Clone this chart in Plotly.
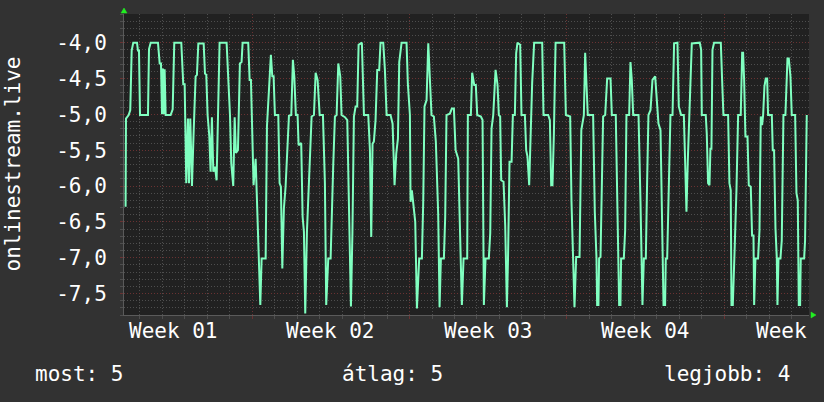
import plotly.graph_objects as go

# ---------------- data ----------------
series_name = "onlinestream.live"

# time in hours from the start of "Week 01"
hours = [
    32.7, 33.1, 36.0, 37.7, 39.2, 40.9, 44.9, 45.9, 47.0, 48.1, 56.6, 57.7, 59.5, 67.3, 69.1, 70.5,
    71.6, 72.6, 73.7, 74.4, 75.5, 80.8, 83.0, 84.7, 92.2, 94.3, 95.8, 97.5, 99.3, 100.4, 101.8, 103.6,
    105.4, 107.5, 108.9, 110.4, 116.1, 117.5, 118.9, 120.3, 122.1, 123.5, 124.9, 126.4, 128.2, 129.9,
    131.4, 133.1, 140.6, 142.4, 144.2, 145.6, 147.7, 149.2, 150.6,
    152.7, 154.8, 156.6, 157.7, 163.7, 165.2, 166.6, 168.0, 169.4, 171.6, 173.0, 175.1, 176.6, 178.0,
    182.3, 183.7, 185.1, 186.5, 187.9, 189.4, 190.8, 192.2, 195.8, 197.2, 198.6, 200.1, 201.8, 203.6,
    205.4, 207.2, 209.7, 211.4, 212.9, 214.6, 216.4, 217.5, 220.3, 221.8, 223.2, 224.6, 226.4, 227.8,
    230.0, 231.4, 233.9, 235.7, 237.8, 240.0, 243.5, 245.6, 247.0, 249.2, 251.7, 253.1, 254.5, 256.3,
    258.1, 259.9, 262.0, 263.4, 267.0, 269.5, 271.6, 273.4, 275.0,
    276.6, 278.4, 280.1, 281.6, 285.1, 287.3, 291.9, 293.7, 295.1, 296.5, 297.9, 299.7, 301.5, 303.6,
    305.0, 307.9, 309.7, 311.5, 315.7, 317.9, 319.3, 320.0, 321.8, 323.6, 325.0, 327.5, 332.8, 334.2,
    336.4, 337.1, 338.5, 339.9, 342.1, 343.9, 346.3, 349.2, 350.6, 352.0, 354.2, 356.0, 357.7, 359.5,
    362.0, 364.1, 366.6, 368.1, 369.5, 372.7, 374.1, 375.5, 379.1, 381.2, 383.4, 385.2, 388.0, 389.8,
    391.9, 393.7, 397.6,
    398.3, 401.5, 402.9, 405.1, 406.8, 408.3, 412.2, 414.0, 415.4, 417.2, 420.7, 422.2, 423.6, 425.4,
    427.9, 430.0, 431.4, 432.8, 433.9, 436.4, 438.2, 440.0, 441.2, 442.8, 445.0, 446.4, 448.5, 449.9,
    451.3, 454.2, 455.6, 459.2, 460.6, 462.0, 463.8, 465.2, 467.0, 469.1, 477.7, 479.1, 484.1, 485.9,
    487.3, 488.7, 490.2, 492.0, 501.2, 503.0, 507.6, 509.0, 510.8, 512.2, 514.0, 517.6, 519.5,
    522.2, 523.6, 525.0, 526.4, 532.1, 533.9, 535.7, 536.4, 537.8, 538.5, 540.0, 541.4, 542.8, 545.0,
    547.1, 550.7, 552.1, 556.3, 557.8, 559.2, 559.9, 561.3, 562.0, 564.9, 566.3, 567.7, 570.6, 572.0,
    573.4, 574.9, 580.6, 582.7, 584.1, 584.8, 586.3, 588.4, 589.8, 591.2, 593.4, 595.5, 598.4, 599.8,
    601.9, 604.1, 605.5, 607.3, 609.0, 609.7, 611.2, 612.6, 614.7, 616.9, 618.6, 622.2, 623.6, 626.1,
    629.0, 630.4, 631.8, 633.2, 635.4, 637.5,
    646.0, 647.5, 648.2, 652.4, 653.5, 654.9, 656.4, 657.4, 658.5, 659.6, 661.3, 668.5, 669.9, 671.3,
    676.3, 677.7, 679.1, 679.9, 681.3, 682.4, 683.4, 685.2, 687.0, 689.8, 691.3, 692.3, 693.4, 694.8,
    697.0, 698.4, 700.5, 701.9, 703.4, 704.1, 705.5, 708.3, 709.8, 711.2, 712.6, 713.7, 715.1, 716.5,
    718.0, 719.0, 723.0, 724.0, 725.4, 726.9, 728.3, 729.0, 730.1, 732.2, 733.6, 735.4, 737.5, 739.7,
    741.1, 742.9, 744.3, 747.9, 749.3, 750.7, 751.8, 753.2, 753.9, 757.5, 758.5, 760.3,
]

values = [
    -6.29, -5.06, -5.01, -4.94, -4.11, -4.00, -4.00, -4.11, -4.11, -5.01, -5.01, -4.09, -4.00, -4.00, -4.29, -4.29,
    -5.00, -4.36, -5.00, -4.37, -5.01, -5.01, -4.93, -4.00, -4.00, -4.58, -4.58, -5.96, -5.06, -5.96, -5.06, -6.00,
    -5.24, -4.47, -4.45, -4.01, -4.01, -4.43, -4.45, -5.01, -5.30, -5.80, -5.04, -5.80, -5.73, -5.92,
    -5.03, -4.00, -4.00, -4.50, -5.01, -5.69, -6.00, -5.04, -5.54,
    -5.50, -4.29, -4.27, -4.00, -4.00, -4.52, -4.52, -5.28, -5.99, -5.62, -6.17, -6.87, -7.66, -7.01,
    -7.01, -5.17, -4.79, -4.59, -4.17, -4.47, -4.47, -5.01, -5.01, -5.96, -6.01, -7.15, -6.31, -6.01,
    -5.41, -5.02, -5.01, -4.24, -4.47, -5.01, -5.01, -5.43, -5.40, -6.43, -6.64, -7.78, -6.64, -6.15,
    -5.48, -5.03, -5.01, -4.42, -4.52, -5.01, -5.01, -5.96, -7.66, -7.01, -7.01, -6.15, -5.71, -5.03,
    -5.01, -4.29, -4.47, -5.01, -5.04, -5.08, -6.34, -7.68, -6.65,
    -5.03, -4.89, -4.89, -4.03, -4.00, -5.01, -5.01, -5.50, -6.71, -5.41, -5.38, -5.08, -4.38, -4.38,
    -4.00, -4.00, -4.38, -5.01, -5.01, -5.13, -5.55, -5.99, -5.55, -5.34, -4.27, -4.00, -4.00, -4.57,
    -5.01, -6.22, -6.06, -6.24, -6.50, -7.71, -7.01, -7.01, -6.24, -4.89, -4.80, -4.01, -4.50, -5.01,
    -5.03, -5.38, -6.38, -7.69, -7.01, -7.01, -6.43, -5.01, -4.99, -4.92, -4.92, -5.50, -5.62, -6.62,
    -7.66, -7.01, -7.01,
    -5.01, -5.01, -4.42, -4.59, -4.59, -5.01, -5.03, -5.08, -7.66, -7.01, -7.01, -6.66, -5.20, -5.01,
    -4.38, -4.59, -5.01, -5.03, -5.92, -5.94, -6.55, -7.69, -7.01, -5.66, -5.66, -5.01, -5.01, -4.15,
    -4.00, -4.03, -5.01, -5.01, -5.50, -5.59, -5.99, -5.29, -4.56, -4.00, -4.00, -5.01, -5.01, -5.08,
    -5.99, -5.99, -5.27, -4.00, -4.00, -5.01, -5.03, -6.22, -7.01, -7.69, -6.99, -6.99, -5.22,
    -5.01, -4.14, -4.52, -5.01, -5.01, -6.36, -7.01, -7.66, -7.66, -7.01, -6.99, -6.20, -5.03, -5.01,
    -4.50, -4.50, -5.01, -5.01, -6.29, -7.01, -7.66, -7.66, -7.01, -7.01, -6.62, -5.01, -5.01, -4.27,
    -4.52, -5.01, -5.01, -6.22, -7.01, -7.66, -7.01, -7.01, -5.92, -5.01, -4.94, -4.52, -4.47, -4.80,
    -5.13, -5.22, -6.52, -7.66, -7.66, -7.01, -7.01, -6.06, -5.01, -5.01, -4.01, -4.00, -4.89, -5.01,
    -5.01, -5.66, -6.36, -5.66, -4.68, -4.01,
    -4.00, -4.10, -5.01, -5.01, -5.27, -5.96, -5.99, -5.48, -5.48, -4.10, -4.00, -4.00, -4.52, -5.01,
    -5.01, -5.96, -6.06, -7.66, -7.66, -7.01, -6.83, -6.06, -5.01, -5.01, -4.14, -4.14, -4.52, -5.31,
    -5.31, -5.99, -6.01, -6.69, -6.69, -7.66, -7.01, -7.01, -6.62, -5.03, -5.15, -5.01, -4.61, -4.50,
    -4.50, -5.01, -5.01, -5.50, -5.50, -6.59, -7.01, -7.66, -7.01, -7.01, -6.76, -5.01, -5.01, -4.22,
    -4.22, -4.47, -5.01, -5.01, -6.10, -6.20, -7.66, -7.66, -7.01, -7.01, -6.76, -5.01,
]

x_range = [31.0, 762.7]
week_ticks = [84, 252, 420, 588, 756]
week_labels = ["Week 01", "Week 02", "Week 03", "Week 04", "Week"]

y_range = [-7.8, -3.6]
y_tickvals = [-4.0, -4.5, -5.0, -5.5, -6.0, -6.5, -7.0, -7.5]
y_ticktext = ["-4,0", "-4,5", "-5,0", "-5,5", "-6,0", "-6,5", "-7,0", "-7,5"]

legend_labels = ["most: 5", "átlag: 5", "legjobb: 4"]

# ---------------- style ----------------
FONT = "DejaVu Sans Mono"
FS = 21
TXT = "#ffffff"
BACK = "#323232"
CANVAS = "#212121"
MINOR = "#4e4e4e"
MAJOR = "#6a3232"
LINE = "#80ffc0"
ARROW = "#22ee22"
AXIS = "#5a5a5a"

fig = go.Figure()
fig.add_trace(go.Scatter(
    x=hours, y=values, mode="lines", name=series_name,
    line=dict(color=LINE, width=2), hoverinfo="skip", showlegend=False,
))

fig.update_layout(
    width=824, height=402, autosize=False,
    margin=dict(l=124, r=15, t=14, b=87, pad=0),
    paper_bgcolor=BACK, plot_bgcolor=CANVAS,
    font=dict(family=FONT, size=FS, color=TXT),
    showlegend=False,
)

fig.update_xaxes(
    range=x_range, tickmode="linear", tick0=0, dtick=168, automargin=False,
    showticklabels=False, showgrid=True, gridcolor=MAJOR, griddash="1px,2px", gridwidth=1,
    ticks="outside", ticklen=3, tickcolor=MAJOR,
    minor=dict(tick0=0, dtick=24, showgrid=True, gridcolor=MINOR, griddash="1px,2px",
               ticks="outside", ticklen=3, tickcolor=MINOR),
    showline=True, linecolor=AXIS, linewidth=1, zeroline=False, fixedrange=True,
)

fig.update_yaxes(
    range=y_range, tickmode="array", tickvals=y_tickvals, ticktext=y_ticktext, automargin=False,
    showgrid=True, gridcolor=MAJOR, griddash="1px,2px", gridwidth=1,
    ticks="outside", ticklen=3, tickcolor=MAJOR, ticklabelstandoff=9,
    tickfont=dict(family=FONT, size=FS, color=TXT),
    minor=dict(tick0=-4.0, dtick=0.1, showgrid=True, gridcolor=MINOR, griddash="1px,2px",
               ticks="outside", ticklen=3, tickcolor=MINOR),
    showline=True, linecolor=AXIS, linewidth=1, zeroline=False, fixedrange=True,
)

annotations = []
for xv, lab in zip(week_ticks, week_labels):
    # a label whose week runs past the right edge is pinned to that edge (as rrdtool clips it)
    last = xv + 84 > x_range[1]
    annotations.append(dict(
        x=x_range[1] if last else xv, y=-0.053, xref="x", yref="paper", text=lab, showarrow=False,
        xanchor="right" if last else "center", yanchor="middle",
        font=dict(family=FONT, size=FS, color=TXT),
    ))

annotations.append(dict(
    x=-0.1635, y=0.5, xref="paper", yref="paper", text=series_name, showarrow=False,
    textangle=-90, xanchor="center", yanchor="middle", font=dict(family=FONT, size=FS, color=TXT),
))

leg_x = [-0.1328, 0.3927, 0.9752]
leg_anchor = ["left", "center", "right"]
for xv, anc, lab in zip(leg_x, leg_anchor, legend_labels):
    annotations.append(dict(
        x=xv, y=-0.196, xref="paper", yref="paper", text=lab, showarrow=False,
        xanchor=anc, yanchor="middle", font=dict(family=FONT, size=FS, color=TXT),
    ))
fig.update_layout(annotations=annotations)

# axis arrows (rrdtool style)
fig.update_layout(shapes=[
    dict(type="path", xref="paper", yref="paper", xsizemode="pixel", ysizemode="pixel",
         xanchor=0, yanchor=1, path="M -3,1 L 3,1 L 0,6 Z",
         fillcolor=ARROW, line=dict(color=ARROW, width=0.5), layer="above"),
    dict(type="path", xref="paper", yref="paper", xsizemode="pixel", ysizemode="pixel",
         xanchor=1, yanchor=0, path="M 2,-3 L 2,3 L 7,0 Z",
         fillcolor=ARROW, line=dict(color=ARROW, width=0.5), layer="above"),
])

fig.write_html(
    "out.html",
    config={"displayModeBar": False, "staticPlot": True},
    post_script="document.body.style.margin='0';document.body.style.padding='0';",
)
